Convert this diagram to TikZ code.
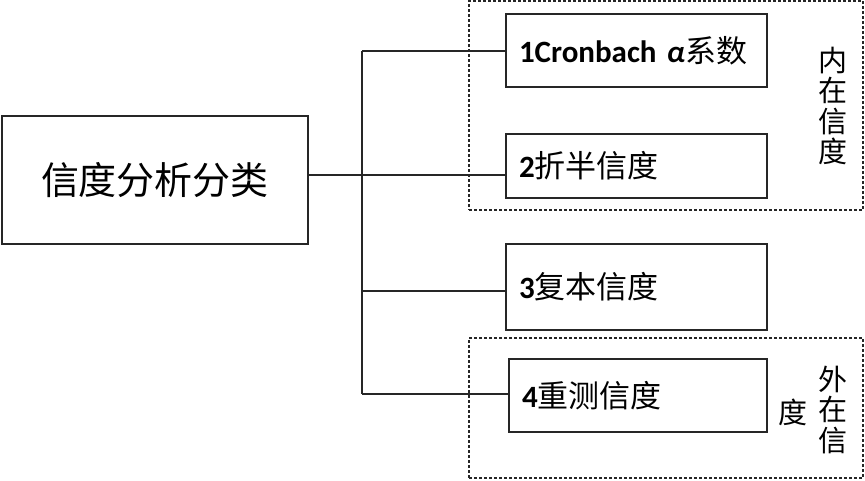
\documentclass[tikz,border=0pt]{standalone}
\usepackage{fontspec}
\setmainfont{Carlito}
\newfontfamily\cjk{Noto Sans CJK SC}
\newfontfamily\lat{Carlito}
\begin{document}
\begin{tikzpicture}[x=1pt,y=-1pt,
  box/.style={draw=black!85, line width=1.6pt, rectangle, inner sep=0pt},
  itembox/.style={box, align=left, inner xsep=13pt, text width=#1-26pt, minimum width=#1},
  grp/.style={draw=black!85, line width=1.2pt, dash pattern=on 3pt off 2pt, rectangle, inner sep=0pt},
  wire/.style={draw=black!85, line width=1.5pt},
  lbl/.style={font=\lat\bfseries\fontsize{31}{34}\selectfont},
  side/.style={align=center, inner sep=0pt, font=\cjk\fontsize{29}{30.5}\selectfont}
]
\useasboundingbox (0,0) rectangle (865,480);
% groups
\node[grp, minimum width=394pt, minimum height=209pt] (g1) at (666,105.5) {};
\node[grp, minimum width=394pt, minimum height=140pt] (g2) at (666,408) {};
% main
\node[box, minimum width=306pt, minimum height=128pt, font=\cjk\fontsize{38}{40}\selectfont] (main) at (155,180) {信度分析分类};
% items
\node[itembox=261pt, minimum height=73pt, lbl] (b1) at (636.5,50.5) {1Cronbach \textit{α}{\cjk\mdseries 系数}};
\node[itembox=261pt, minimum height=64pt, lbl] (b2) at (636.5,166) {2{\cjk\mdseries 折半信度}};
\node[itembox=261pt, minimum height=86pt, lbl] (b3) at (636.5,287) {3{\cjk\mdseries 复本信度}};
\node[itembox=258pt, minimum height=73pt, lbl] (b4) at (638,395.5) {4{\cjk\mdseries 重测信度}};
% side labels
\node[side] (s1) at (833,106) {内\\在\\信\\度};
\node[side] (s2) at (833,410) {外\\在\\信};
\node[side] (s3) at (793,412) {度};
% connectors
\coordinate (j1) at (362,51);
\coordinate (j2) at (362,175);
\coordinate (j3) at (362,291);
\coordinate (j4) at (362,394);
\draw[wire] (j1) -- (j4);
\draw[wire] (j1) -- (j1 -| b1.west);
\draw[wire] (main.east |- j2) -- (j2 -| b2.west);
\draw[wire] (j3) -- (j3 -| b3.west);
\draw[wire] (j4) -- (j4 -| b4.west);
\end{tikzpicture}
\end{document}
